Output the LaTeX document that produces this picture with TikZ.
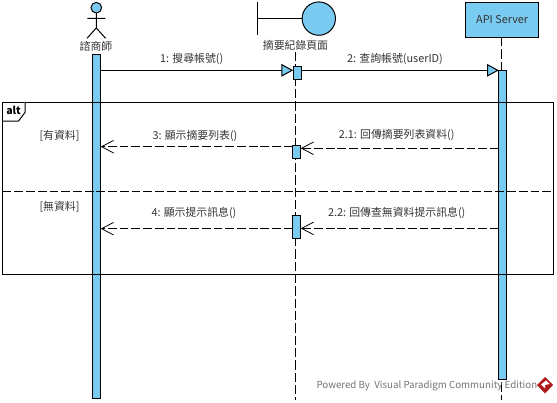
\documentclass[tikz,border=0pt]{standalone}
\usepackage{fontspec}
\setmainfont{Noto Sans CJK TC}
\usetikzlibrary{arrows.meta}
\definecolor{vpblue}{HTML}{7ACBF2}
\definecolor{vptext}{HTML}{333333}
\tikzset{
  x=0.75pt,y=-0.75pt,
  every node/.style={inner sep=0pt,outer sep=0pt},
  shapeline/.style={draw=black,line width=0.75pt},
  actbox/.style={shapeline,fill=vpblue,rectangle,anchor=north west,minimum width=6pt},
  lifeline/.style={draw=black,line width=0.75pt,dash pattern=on 7pt off 2.25pt},
  label/.style={font=\fontsize{8.15pt}{9pt}\selectfont,text=vptext,anchor=center},
  synccall/.style={draw=black,line width=0.75pt,-{Triangle[length=8.8pt,width=9.4pt,fill=vpblue,line width=0.75pt]}},
  reply/.style={draw=black,line width=0.75pt,dash pattern=on 6.6pt off 2.2pt,-{Straight Barb[length=9pt,width=9.4pt,line width=0.6pt]}},
}
\begin{document}
\begin{tikzpicture}
\useasboundingbox (0,0) rectangle (557,403);
% Lifelines
\coordinate (ll2top) at (295.5,52);
\coordinate (ll2bot) at (295.5,400);
\coordinate (ll3top) at (501.3,37);
\coordinate (ll3bot) at (501.3,400);
\draw[lifeline] (ll2top) -- (ll2bot);
\draw[lifeline] (ll3top) -- (ll3bot);
% Actor
\node[shapeline,fill=vpblue,circle,minimum size=8pt] (head) at (96.3,7.7) {};
\coordinate (hip) at (96.3,28);
\coordinate (armL) at (87.3,18.3);
\coordinate (armR) at (105.3,18.3);
\coordinate (legL) at (87,38.3);
\coordinate (legR) at (105.6,38.3);
\draw[shapeline] (head.south) -- (hip) (armL) -- (armR) (legL) -- (hip) -- (legR);
\node[label] (actorlabel) at (96,46) {諮商師};
% Boundary
\node[shapeline,fill=vpblue,circle,minimum size=25pt] (bcircle) at (318.8,18.6) {};
\coordinate (btop) at (257.4,2);
\coordinate (bbot) at (257.4,35.5);
\coordinate (bmid) at (257.4,18.6);
\draw[shapeline] (btop) -- (bbot) (bmid) -- (bcircle.west);
\node[label] (boundlabel) at (295.5,45) {摘要紀錄頁面};
% API Server
\node[shapeline,fill=vpblue,rectangle,minimum width=55pt,minimum height=25.9pt,anchor=north west,font=\fontsize{8.15pt}{9pt}\selectfont,text=vptext] (server) at (465.5,2.5) {API Server};
% Activations
\node[actbox,minimum height=258pt] (a1) at (92.7,54.5) {};
\node[actbox,minimum height=9.8pt] (a2) at (293.2,66.5) {};
\node[actbox,minimum height=232pt] (a3) at (498.8,70.5) {};
\node[actbox,minimum height=9.8pt] (a4) at (292.7,145.5) {};
\node[actbox,minimum height=17.2pt] (a5) at (292.7,215.5) {};
% Frame
\coordinate (fTL) at (2.6,102.3);
\coordinate (fBR) at (553.3,274.3);
\coordinate (fdivL) at (2.6,191.3);
\coordinate (fdivR) at (553.3,191.3);
\draw[shapeline] (fTL) rectangle (fBR);
\draw[lifeline,dash pattern=on 6.6pt off 2.2pt] (fdivL) -- (fdivR);
\coordinate (t1) at (25,102.3);
\coordinate (t2) at (25,112.5);
\coordinate (t3) at (18.5,121);
\coordinate (t4) at (2.6,121);
\draw[shapeline,fill=white] (t1) -- (t2) -- (t3) -- (t4);
\node[label,font=\bfseries\fontsize{7.9pt}{9pt}\selectfont,text=black] (alt) at (13.6,110.5) {alt};
\node[label] (g1) at (59.5,135.5) {[有資料]};
\node[label] (g2) at (59.5,207) {[無資料]};
% Messages
\draw[synccall] (a1.east |- 0,70.3) -- (a2.west |- 0,70.3);
\node[label] (m1) at (191.7,59) {1: 搜尋帳號()};
\draw[synccall] (a2.east |- 0,70.3) -- (a3.west |- 0,70.3);
\node[label] (m2) at (395,58.5) {2: 查詢帳號(userID)};
\draw[reply] (a3.west |- 0,148.3) -- (a4.east |- 0,148.3);
\node[label] (m21) at (396.7,135) {2.1: 回傳摘要列表資料()};
\draw[reply] (a4.west |- 0,146.7) -- (a1.east |- 0,146.7);
\node[label] (m3) at (195,136) {3: 顯示摘要列表()};
\draw[reply] (a3.west |- 0,228.4) -- (a5.east |- 0,228.4);
\node[label] (m22) at (396.7,213) {2.2: 回傳查無資料提示訊息()};
\draw[reply] (a5.west |- 0,228.7) -- (a1.east |- 0,228.7);
\node[label] (m4) at (194,213) {4: 顯示提示訊息()};
% Footer
\node[label,text=black!55,font=\fontsize{7.3pt}{9pt}\selectfont,anchor=west] (footer) at (316.5,386) {Powered By\ \ Visual Paradigm Community Edition};
\fill[red!65!black!90] (545,377) -- (553,385) -- (545,393.5) -- (537,385) -- cycle;
\fill[white] (541,384.5) -- (546,380.5) -- (549.5,384) -- (545,385) -- (545,388.5) -- cycle;
\end{tikzpicture}
\end{document}
